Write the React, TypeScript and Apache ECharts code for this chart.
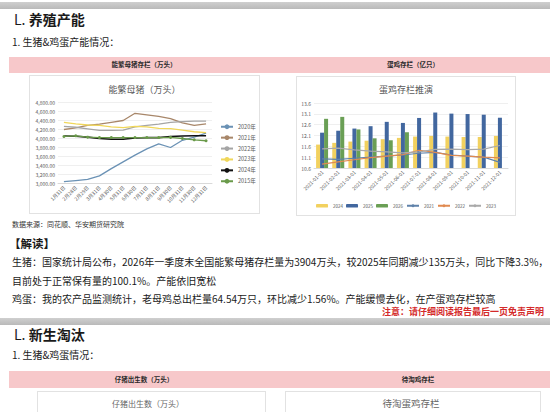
import React, { useEffect, useRef } from 'react';
import * as echarts from 'echarts';

// ---- Left chart data: 能繁母猪（万头）
const sowCategories = ['1月31日', '2月28日', '2月29日', '3月31日', '4月30日', '5月31日', '6月30日', '7月31日', '8月31日', '9月30日', '10月31日', '11月30日', '12月31日'];
const sow2020 = [3040, 3065, 3090, 3170, 3330, 3480, 3630, 3770, 3880, 3800, 3960, 4030, 4120];
const sow2021 = [4200, 4235, 4290, 4320, 4360, 4400, 4560, 4525, 4490, 4440, 4345, 4290, 4325];
const sow2022 = [4270, 4250, 4215, 4180, 4180, 4185, 4260, 4290, 4320, 4360, 4375, 4385, 4385];
const sow2023 = [4360, 4325, 4300, 4290, 4260, 4240, 4270, 4260, 4225, 4220, 4185, 4150, 4130];
const sow2024 = [4055, 4050, 4030, 4000, 3985, 3985, 4010, 4020, 4020, 4045, 4055, 4060, 4060];
const sow2025 = [4045, 4060, 4030, 4020, 4020, 4020, 4020, 4020, 4020, 4025, 4000, 3970, 3950];
const sowSeriesNames = ['2020年', '2021年', '2022年', '2023年', '2024年', '2015年'];
const sowYTicks = { min: 3000, max: 4800, step: 200 };

// ---- Right chart data: 蛋鸡存栏推演（亿只）
const eggCategories = ['2021-01-01', '2021-02-01', '2021-03-01', '2021-04-01', '2021-05-01', '2021-06-01', '2021-07-01', '2021-08-01', '2021-09-01', '2021-10-01', '2021-11-01', '2021-12-01'];
const egg2024 = [11.68, 11.76, 11.82, 11.86, 11.93, 11.99, 12.05, 12.08, 12.05, 12.03, 12.03, 12.08];
const egg2025 = [12.23, 12.32, 12.42, 12.53, 12.73, 12.68, 12.91, 13.16, 13.11, 13.09, 13.06, 12.92];
const egg2026 = [12.87, 12.96, 12.38, 11.97, 11.88, 12.25, null, null, null, null, null, null];
const egg2021 = [11.02, 11.0, 11.05, 11.1, 11.15, 11.2, 11.28, 11.32, 11.2, 11.15, 11.1, 10.86];
const egg2022 = [10.78, 10.88, 10.98, 11.08, 11.15, 11.22, 11.42, 11.32, 11.18, 11.15, 11.1, 11.07];
const egg2023 = [11.48, 11.52, 11.44, 11.38, 11.34, 11.3, 11.34, 11.46, 11.47, 11.45, 11.47, 11.64];
const eggSeriesNames = ['2024', '2025', '2026', '2021', '2022', '2023'];
const eggYTicks = { min: 10.6, max: 13.6, step: 0.5 };

const FONT = '"Noto Sans CJK SC", "Noto Sans", sans-serif';

function Chart({ option, style }: { option: any; style: React.CSSProperties }) {
  const ref = useRef<HTMLDivElement>(null);
  useEffect(() => {
    const chart = echarts.init(ref.current!, null, { renderer: 'svg' });
    chart.setOption(option);
    return () => chart.dispose();
  }, []);
  return <div ref={ref} style={style} />;
}

const axisLabelColor = '#595959';

const sowOption = {
  animation: false,
  textStyle: { fontFamily: FONT },
  title: {
    text: '能繁母猪（万头）', left: 'center', top: 4,
    textStyle: { fontSize: 9, color: '#595959', fontWeight: 'normal', fontFamily: FONT },
  },
  grid: { left: 28, right: 47, top: 26.5, bottom: 29.5 },
  xAxis: {
    type: 'category', data: sowCategories, boundaryGap: true,
    axisLine: { lineStyle: { color: '#d9d9d9' } }, axisTick: { show: false },
    axisLabel: { rotate: 45, fontSize: 5, color: axisLabelColor, interval: 0, margin: 3 },
  },
  yAxis: {
    type: 'value', min: sowYTicks.min, max: sowYTicks.max, interval: sowYTicks.step,
    axisLabel: {
      fontSize: 5, color: axisLabelColor, margin: 3,
      formatter: (v: number) => v.toLocaleString('en-US', { minimumFractionDigits: 2, maximumFractionDigits: 2 }),
    },
    splitLine: { lineStyle: { color: '#e4e4e4', width: 0.6 } },
  },
  legend: {
    orient: 'vertical', left: 190, top: 48, itemWidth: 12, itemHeight: 6, itemGap: 5.4,
    padding: 0,
    textStyle: { fontSize: 5.5, color: axisLabelColor },
    data: sowSeriesNames,
  },
  series: [
    { name: sowSeriesNames[0], type: 'line', data: sow2020, symbol: 'none', lineStyle: { width: 1.3, color: '#6b92b5' }, itemStyle: { color: '#6b92b5' } },
    { name: sowSeriesNames[1], type: 'line', data: sow2021, symbol: 'none', lineStyle: { width: 1.3, color: '#a8876a' }, itemStyle: { color: '#a8876a' } },
    { name: sowSeriesNames[2], type: 'line', data: sow2022, symbol: 'none', lineStyle: { width: 1.3, color: '#a5a5a5' }, itemStyle: { color: '#a5a5a5' } },
    { name: sowSeriesNames[3], type: 'line', data: sow2023, symbol: 'none', lineStyle: { width: 1.3, color: '#f0d75a' }, itemStyle: { color: '#f0d75a' } },
    { name: sowSeriesNames[4], type: 'line', data: sow2024, symbol: 'none', lineStyle: { width: 1.6, color: '#111111' }, itemStyle: { color: '#111111' } },
    { name: sowSeriesNames[5], type: 'line', data: sow2025, symbol: 'circle', symbolSize: 3, showSymbol: true, lineStyle: { width: 1.3, color: '#6a9a4a' }, itemStyle: { color: '#6a9a4a' } },
  ],
};

const eggOption = {
  animation: false,
  textStyle: { fontFamily: FONT },
  title: {
    text: '蛋鸡存栏推演', left: 'center', top: 3,
    textStyle: { fontSize: 9, color: '#595959', fontWeight: 'normal', fontFamily: FONT },
  },
  grid: { left: 17, right: 7, top: 26, bottom: 47 },
  xAxis: {
    type: 'category', data: eggCategories, boundaryGap: true,
    axisLine: { lineStyle: { color: '#d9d9d9' } }, axisTick: { show: false },
    axisLabel: { rotate: 45, fontSize: 5, color: axisLabelColor, interval: 0, margin: 3 },
  },
  yAxis: {
    type: 'value', min: eggYTicks.min, max: eggYTicks.max, interval: eggYTicks.step,
    axisLabel: { fontSize: 5, color: axisLabelColor, margin: 3, formatter: (v: number) => v.toFixed(1) },
    splitLine: { lineStyle: { color: '#e4e4e4', width: 0.6 } },
  },
  legend: {
    bottom: 7, left: 'center', itemWidth: 12, itemHeight: 3.5, itemGap: 3,
    padding: 0,
    textStyle: { fontSize: 4.5, color: axisLabelColor },
    data: eggSeriesNames,
  },
  series: [
    { name: eggSeriesNames[0], type: 'bar', data: egg2024, barWidth: 4, barGap: '0%', itemStyle: { color: '#f2d15f' } },
    { name: eggSeriesNames[1], type: 'bar', data: egg2025, barWidth: 4, barGap: '0%', itemStyle: { color: '#42679f' } },
    { name: eggSeriesNames[2], type: 'bar', data: egg2026, barWidth: 4, barGap: '0%', itemStyle: { color: '#6a9f55' } },
    { name: eggSeriesNames[3], type: 'line', data: egg2021, symbol: 'none', lineStyle: { width: 1.2, color: '#5f82aa' }, itemStyle: { color: '#5f82aa' } },
    { name: eggSeriesNames[4], type: 'line', data: egg2022, symbol: 'none', lineStyle: { width: 1.2, color: '#e08a50' }, itemStyle: { color: '#e08a50' } },
    { name: eggSeriesNames[5], type: 'line', data: egg2023, symbol: 'none', lineStyle: { width: 1.2, color: '#a9a9a9' }, itemStyle: { color: '#a9a9a9' } },
  ],
};

function T({ x, y, size, bold, color, children, right }: any) {
  const style: React.CSSProperties = {
    position: 'absolute', top: y - size * 0.7, fontSize: size, lineHeight: `${size * 1.4}px`,
    fontWeight: bold ? 'bold' : 'normal', color: color || '#1a1a1a', whiteSpace: 'nowrap', fontFamily: FONT,
  };
  if (right !== undefined) style.right = right; else style.left = x;
  return <div style={style}>{children}</div>;
}

const grayBand = (top: number): React.CSSProperties => ({
  position: 'absolute', left: 0, top, width: 550, height: 7,
  background: 'linear-gradient(#cfcfcf, #b9b9b9)',
});

const pinkBar = (top: number, h: number): React.CSSProperties => ({
  position: 'absolute', left: 9, top, width: 541, height: h, background: '#f7c8ca',
});

const box = (left: number, top: number, w: number, h: number): React.CSSProperties => ({
  position: 'absolute', left, top, width: w, height: h, border: '1px solid #e2e2e2', boxSizing: 'border-box', background: '#fff',
});

function CenterText({ cx, y, size, bold, color, children }: any) {
  return (
    <div style={{ position: 'absolute', left: cx - 150, width: 300, textAlign: 'center', top: y - size * 0.7, fontSize: size, lineHeight: `${size * 1.4}px`, fontWeight: bold ? 'bold' : 'normal', color: color || '#1a1a1a', fontFamily: FONT, whiteSpace: 'nowrap' }}>{children}</div>
  );
}

export default function App() {
  return (
    <div style={{ position: 'absolute', left: 0, top: 0, width: 550, height: 412, overflow: 'hidden', background: '#fff', fontFamily: FONT }}>
      <div style={grayBand(2)} />
      <T x={14} y={20} size={14} bold><span style={{ fontWeight: 'normal' }}>L.</span> 养殖产能</T>
      <T x={12} y={42} size={10}>1. 生猪&amp;鸡蛋产能情况：</T>

      <div style={pinkBar(57, 16)} />
      <CenterText cx={144} y={65} size={6.5} bold color="#2a2a2a">能繁母猪存栏（万头）</CenterText>
      <CenterText cx={413} y={65} size={6.5} bold color="#2a2a2a">蛋鸡存栏（亿只）</CenterText>

      <div style={box(29, 75, 231, 139)}>
        <Chart option={sowOption} style={{ position: 'absolute', left: 0, top: 0, width: 229, height: 137 }} />
      </div>
      <div style={box(296, 76, 220, 140)}>
        <Chart option={eggOption} style={{ position: 'absolute', left: 0, top: 0, width: 218, height: 138 }} />
      </div>

      <T x={12} y={225} size={7} color="#333">数据来源：同花顺、华安期货研究院</T>
      <T x={9} y={243} size={11.5} bold>【解读】</T>
      <T x={12} y={262} size={10}>生猪：国家统计局公布，2026年一季度末全国能繁母猪存栏量为3904万头，较2025年同期减少135万头，同比下降3.3%，</T>
      <T x={12} y={281} size={10}>目前处于正常保有量的100.1%。产能依旧宽松</T>
      <T x={12} y={299} size={10}>鸡蛋：我的农产品监测统计，老母鸡总出栏量64.54万只，环比减少1.56%。产能缓慢去化，在产蛋鸡存栏较高</T>
      <T right={6} y={312} size={9} bold color="#d42a2a">注意：请仔细阅读报告最后一页免责声明</T>

      <div style={grayBand(318)} />
      <T x={14} y={335} size={14} bold><span style={{ fontWeight: 'normal' }}>L.</span> 新生淘汰</T>
      <T x={12} y={355} size={10}>1. 生猪&amp;鸡蛋情况：</T>

      <div style={pinkBar(371, 17)} />
      <CenterText cx={144} y={379.5} size={6.5} bold color="#2a2a2a">仔猪出生数（万头）</CenterText>
      <CenterText cx={418} y={379.5} size={6.5} bold color="#2a2a2a">待淘鸡存栏</CenterText>

      <div style={box(37, 391, 229, 40)} />
      <div style={box(285, 391, 256, 40)} />
      <CenterText cx={148} y={404} size={8} color="#666">仔猪出生数（万头）</CenterText>
      <CenterText cx={411} y={404} size={9.5} color="#666">待淘蛋鸡存栏</CenterText>
    </div>
  );
}
